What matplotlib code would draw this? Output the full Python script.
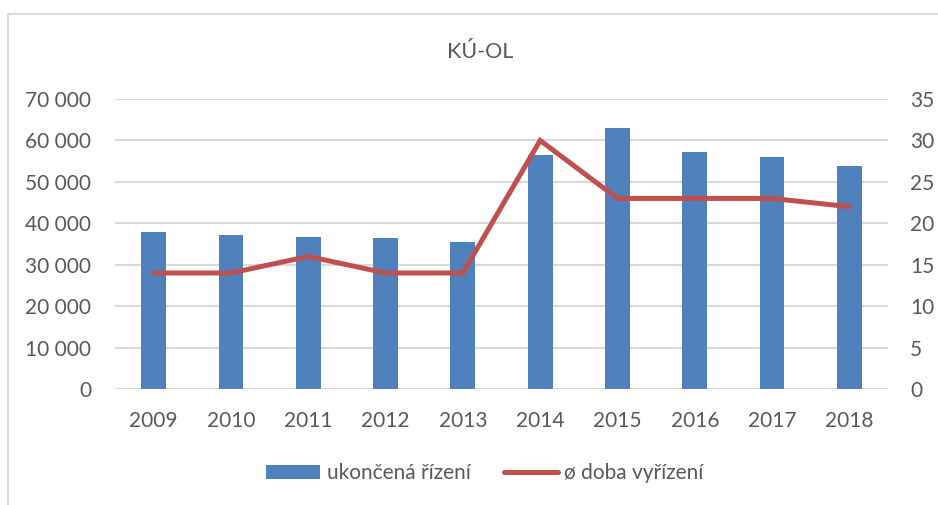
import matplotlib.pyplot as plt
import matplotlib.patches as mpatches
from matplotlib.ticker import FuncFormatter
import numpy as np

plt.rcParams['font.family'] = ['Lato', 'DejaVu Sans']

years = ['2009', '2010', '2011', '2012', '2013', '2014', '2015', '2016', '2017', '2018']
finished = [38000, 37100, 36600, 36500, 35400, 56400, 62900, 57100, 56000, 53800]
avg_days = [14, 14, 16, 14, 14, 30, 23, 23, 23, 22]

bar_color = '#4F81BD'
line_color = '#C0504D'
text_color = '#595959'
grid_color = '#D9D9D9'

fig = plt.figure(figsize=(9.38, 5.05), dpi=100)
ax = fig.add_axes([115 / 938, 1 - 389 / 505, (888 - 115) / 938, 290 / 505])
ax2 = ax.twinx()

x = np.arange(len(years))
ax.bar(x, finished, width=0.32, color=bar_color, zorder=2, label='ukončená řízení')
ax2.plot(x, avg_days, color=line_color, linewidth=3.6, solid_capstyle='round',
         solid_joinstyle='miter', zorder=3, label='ø doba vyřízení')

ax.set_xlim(-0.5, len(years) - 0.5)
ax.set_ylim(0, 70000)
ax.set_yticks(range(0, 70001, 10000))
ax.yaxis.set_major_formatter(FuncFormatter(lambda v, p: f'{int(v):,}'.replace(',', ' ')))
ax2.set_ylim(0, 35)
ax2.set_yticks(range(0, 36, 5))

ax.set_xticks(x)
ax.set_xticklabels(years)
ax.grid(axis='y', color=grid_color, linewidth=1.5, zorder=0)
ax.set_axisbelow(True)

for a in (ax, ax2):
    for s in a.spines.values():
        s.set_visible(False)
    a.tick_params(length=0, labelsize=15, colors=text_color)
ax.tick_params(axis='y', pad=17)
ax.tick_params(axis='x', pad=16)
ax2.tick_params(axis='y', pad=16)

fig.text(480 / 938, 1 - 52 / 505, 'KÚ-OL', ha='center', va='center',
         fontsize=15.5, color=text_color)

# chart frame
fig.patches.append(mpatches.Rectangle((8 / 938, -0.05), 1.1, 1 - 14 / 505 + 0.05,
                                      transform=fig.transFigure, fill=False,
                                      edgecolor=grid_color, linewidth=1.5))

h1, l1 = ax.get_legend_handles_labels()
h2, l2 = ax2.get_legend_handles_labels()
fig.legend(h1 + h2, l1 + l2, loc='center', bbox_to_anchor=(485 / 938, 1 - 473 / 505),
           ncol=2, frameon=False, fontsize=15, labelcolor=text_color,
           handlelength=2.6, handleheight=0.65, handletextpad=0.3, columnspacing=1.6)

fig.savefig('out.png', dpi=100)
